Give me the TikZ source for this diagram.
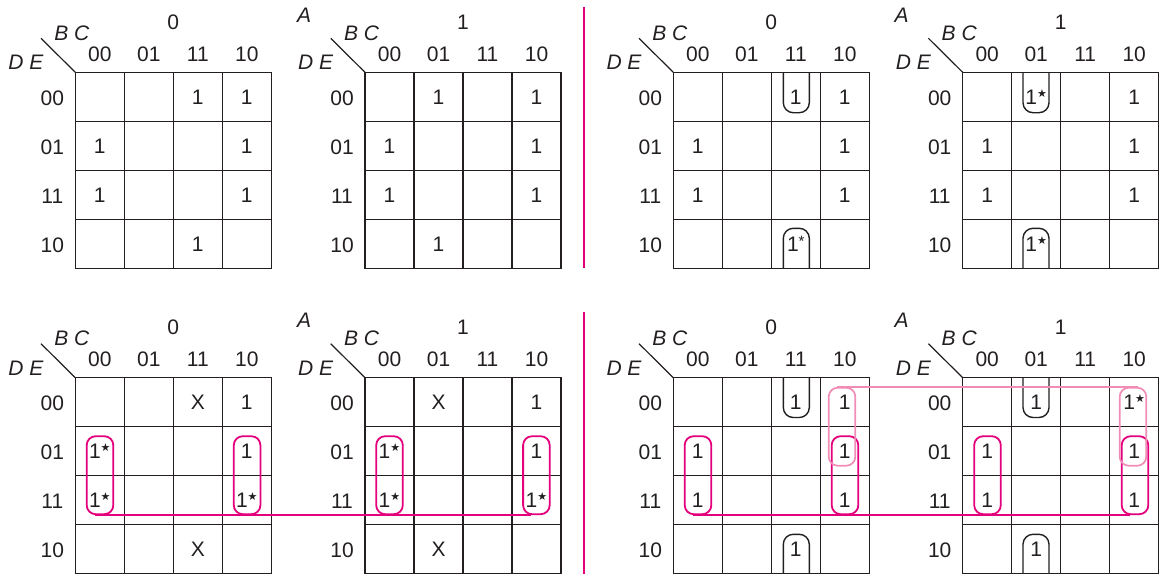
\documentclass[tikz,border=0pt]{standalone}
\usepackage{fontspec}
\setmainfont{Liberation Sans}
\newfontfamily\symf{DejaVu Sans}
\definecolor{mag}{RGB}{228,0,124}
\definecolor{lpink}{RGB}{240,140,182}
\definecolor{ink}{RGB}{35,31,32}
\newcommand{\st}{\raisebox{7.5pt}{\fontsize{11}{11}\selectfont\symf ★}}
\newcommand{\astk}{\raisebox{4.5pt}{\fontsize{15}{15}\selectfont *}}
\tikzset{
  gridline/.style={draw=ink, line width=1.2pt},
  lbl/.style={inner sep=0pt, text=ink, font=\fontsize{21}{24}\selectfont},
  ilbl/.style={inner sep=0pt, text=ink, font=\fontsize{21}{24}\selectfont\itshape},
  bloop/.style={draw=ink, line width=1.4pt, rounded corners=10pt},
  mloop/.style={draw=mag, line width=1.8pt, rounded corners=9pt, minimum width=26.6pt, minimum height=78pt, inner sep=0pt},
  ploop/.style={draw=lpink, line width=1.7pt, rounded corners=9pt, minimum width=26.6pt, minimum height=78pt, inner sep=0pt},
  mline/.style={draw=mag, line width=1.8pt},
  pline/.style={draw=lpink, line width=1.7pt},
  sep/.style={draw=mag, line width=2pt},
}
\newcommand{\kmap}[5]{%
\begin{scope}[shift={(#1,#2)}]
  \foreach \ii in {1,2,3}{\draw[gridline] (49*\ii,0) -- (49*\ii,196); \draw[gridline] (0,49*\ii) -- (196,49*\ii);}
  \draw[gridline] (0,0) rectangle (196,196);
  \draw[gridline] (-34.3,-34) -- (0,0);
  \node[lbl] (#4t) at (98,-50) {#3};
  \node[ilbl] (#4bc) at (-3.5,-39) {B C};
  \node[ilbl] (#4de) at (-49.3,-9.6) {D E};
  \foreach \lab [count=\ii from 0] in {00,01,11,10}{%
    \node[lbl] (#4c\ii) at (24.5+49*\ii,-18) {\lab};
    \node[lbl] (#4r\ii) at (-23,25.5+49*\ii) {\lab};}
  \foreach \cI/\rI/\vT [count=\kk] in {#5}{\node[lbl] (#4v\kk) at (24.5+49*\cI,24.5+49*\rI) {\vT};}
\end{scope}}
\begin{document}
\begin{tikzpicture}[x=1pt,y=-1pt]
\useasboundingbox (0,0) rectangle (1166,574);
% top row
\kmap{75.3}{72.3}{0}{ma}{2/0/1, 3/0/1, 0/1/1, 3/1/1, 0/2/1, 3/2/1, 2/3/1}
\kmap{365}{72.3}{1}{mb}{1/0/1, 3/0/1, 0/1/1, 3/1/1, 0/2/1, 3/2/1, 1/3/1}
\kmap{673.3}{72.3}{0}{mc}{2/0/1, 3/0/1, 0/1/1, 3/1/1, 0/2/1, 3/2/1, 2/3/1\astk}
\kmap{962.7}{72.3}{1}{md}{1/0/1\st, 3/0/1, 0/1/1, 3/1/1, 0/2/1, 3/2/1, 1/3/1\st}
% bottom row
\kmap{75.3}{377.7}{0}{me}{2/0/X, 3/0/1, 0/1/1\st, 3/1/1, 0/2/1\st, 3/2/1\st, 2/3/X}
\kmap{365}{377.7}{1}{mf}{1/0/X, 3/0/1, 0/1/1\st, 3/1/1, 0/2/1\st, 3/2/1\st, 1/3/X}
\kmap{673.3}{377.7}{0}{mg}{2/0/1, 3/0/1, 0/1/1, 3/1/1, 0/2/1, 3/2/1, 2/3/1}
\kmap{962.7}{377.7}{1}{mh}{1/0/1, 3/0/1\st, 0/1/1, 3/1/1, 0/2/1, 3/2/1, 1/3/1}
% A labels
\node[ilbl] (ab) at (304,15) {A};
\node[ilbl] (ad) at (901.7,15) {A};
\node[ilbl] (af) at (304,320.5) {A};
\node[ilbl] (ah) at (901.7,320.5) {A};
% separators
\draw[sep] (584,6.7) -- (584,268.3);
\draw[sep] (584,311.7) -- (584,574);
% black U loops, top right
\draw[bloop] (783.3,72.3) -- (783.3,112.7) -- (809.3,112.7) -- (809.3,72.3);
\draw[bloop] (783.3,268.3) -- (783.3,228.3) -- (809.3,228.3) -- (809.3,268.3);
\draw[bloop] (1023,72.3) -- (1023,112.7) -- (1049,112.7) -- (1049,72.3);
\draw[bloop] (1023,268.3) -- (1023,228.3) -- (1049,228.3) -- (1049,268.3);
% black U loops, bottom right
\draw[bloop] (783.3,377.7) -- (783.3,417.5) -- (809.3,417.5) -- (809.3,377.7);
\draw[bloop] (783.3,573.7) -- (783.3,534.3) -- (809.3,534.3) -- (809.3,573.7);
\draw[bloop] (1023,377.7) -- (1023,417.5) -- (1049,417.5) -- (1049,377.7);
\draw[bloop] (1023,573.7) -- (1023,534.3) -- (1049,534.3) -- (1049,573.7);
% magenta loops bottom left
\node[mloop] (l1) at (100,475.2) {};
\node[mloop] (l2) at (247.1,475.2) {};
\node[mloop] (l3) at (389.5,475.2) {};
\node[mloop] (l4) at (536.4,475.2) {};
\draw[mline] ([xshift=9pt]l1.south west) -- ([xshift=9pt]l4.south west);
% magenta loops bottom right
\node[mloop] (r1) at (698,475.2) {};
\node[mloop] (r2) at (845,475.2) {};
\node[mloop] (r3) at (987.5,475.2) {};
\node[mloop] (r4) at (1135,475.2) {};
\draw[mline] ([xshift=9pt]r1.south west) -- ([xshift=9pt]r4.south west);
% pink loops
\node[ploop] (p1) at (842,426.7) {};
\node[ploop] (p2) at (1133,426.7) {};
\draw[pline] ([xshift=9pt]p1.north west) -- ([xshift=-9pt]p2.north east);
\end{tikzpicture}
\end{document}
